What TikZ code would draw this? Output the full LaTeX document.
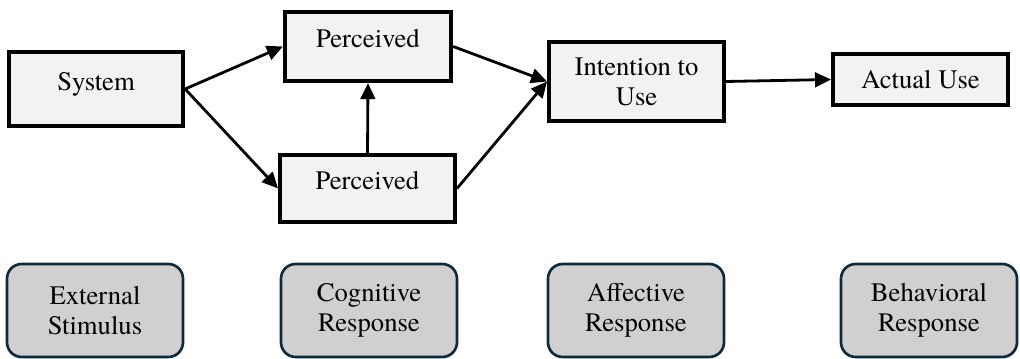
\documentclass[tikz,border=0pt]{standalone}
\usepackage{fontspec}
\setmainfont{texgyretermes-regular.otf}
\usetikzlibrary{arrows.meta}
\definecolor{boxgray}{HTML}{F2F2F2}
\definecolor{stagegray}{HTML}{D0D0D0}
\definecolor{stageline}{HTML}{0E2B3D}
\tikzset{
  construct/.style={draw=black, line width=3.2pt, fill=boxgray, align=center,
    minimum width=131pt, font=\fontsize{20}{22.5}\selectfont},
  raised/.style={text height=14pt, text depth=12pt},
  stage/.style={draw=stageline, line width=2pt, fill=stagegray, rounded corners=11pt,
    align=center, minimum width=132pt, minimum height=69.75pt,
    font=\fontsize{20}{22.5}\selectfont},
  link/.style={line width=2.1pt, -{Triangle[length=12pt,width=11pt]}}
}
\begin{document}
\begin{tikzpicture}[x=0.75pt,y=-0.75pt]
	\useasboundingbox (0,0) rectangle (1020,359);
	\node (System) at (96,89) [construct, raised, minimum width=130.5pt, minimum height=55.5pt] {System};
	\node (PU) at (368,46.5) [construct, raised, minimum width=124.5pt, minimum height=51.75pt] {Perceived};
	\node (PE) at (367.5,188.5) [construct, raised, minimum height=50.25pt] {Perceived};
	\node (Intention) at (636.5,81.5) [construct, minimum height=59.25pt] {Intention to\\Use};
	\node (Use) at (920.5,79.5) [construct, minimum height=38.25pt] {Actual Use};
	\node (Stimulus) at (95,310.5) [stage] {External\\Stimulus};
	\node (Cognitive) at (369,310.5) [stage] {Cognitive\\Response};
	\node (Affective) at (636,310.5) [stage] {Affective\\Response};
	\node (Behavioral) at (929,310.5) [stage] {Behavioral\\Response};
	\draw [link] (System.east) -- (PU.west);
	\draw [link] (System.east) -- (PE.west);
	\draw [link] (PE.north) -- (PU.south);
	\draw [link] (PU.east) -- (Intention.west);
	\draw [link] (PE.east) -- (Intention.west);
	\draw [link] (Intention.east) -- (Use.west);
\end{tikzpicture}
\end{document}
